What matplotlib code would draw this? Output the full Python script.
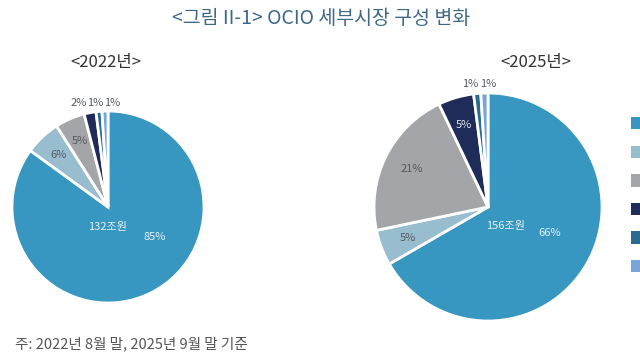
import numpy as np
import matplotlib
matplotlib.use('Agg')
import matplotlib.pyplot as plt
from matplotlib.patches import Patch

plt.rcParams['font.family'] = ['Noto Sans CJK KR', 'DejaVu Sans']

colors = ['#3797c0', '#97bdcf', '#a4a5a8', '#1f2b58', '#2b6b8e', '#78a6da']
share_2022 = [85, 6, 5, 2, 1, 1]
share_2025 = [66, 5, 21, 5, 1, 1]
total_2022 = '132조원'
total_2025 = '156조원'
title = '<그림 II-1> OCIO 세부시장 구성 변화'
note = '주: 2022년 8월 말, 2025년 9월 말 기준'

fig = plt.figure(figsize=(6.4, 3.6), dpi=100)
fig.patch.set_facecolor('white')


def draw_pie(rect, values, total, txt_colors, main_pos, total_pos, small_x):
    ax = fig.add_axes(rect)
    wedges, _ = ax.pie(values, colors=colors, startangle=90, counterclock=False,
                       wedgeprops=dict(edgecolor='white', linewidth=2))
    ax.set_xlim(-1, 1)
    ax.set_ylim(-1, 1)
    ax.set_aspect('equal')
    ax.axis('off')
    k = 0
    for i, (w, v) in enumerate(zip(wedges, values)):
        if i == 0:
            ax.text(main_pos[0], main_pos[1], f'{v}%', ha='center', va='center',
                    fontsize=8, color='#e8f2f7')
            continue
        if v >= 5:
            ang = np.deg2rad((w.theta1 + w.theta2) / 2)
            r = 0.75
            x, y = r * np.cos(ang), r * np.sin(ang)
        else:
            x, y = small_x[k], 1.08
            k += 1
        ax.text(x, y, f'{v}%', ha='center', va='center',
                fontsize=8, color=txt_colors[i])
    ax.text(total_pos[0], total_pos[1], total, ha='center', va='center',
            fontsize=8, color='#e8f2f7')
    return ax


gray_txt = '#555a60'
draw_pie([12 / 640, 57 / 360, 192 / 640, 192 / 360], share_2022, total_2022,
         ['white', gray_txt, gray_txt, gray_txt, gray_txt, gray_txt],
         (0.49, -0.31), (0.0, -0.21), [-0.30, -0.13, 0.04])
draw_pie([374 / 640, 39 / 360, 228 / 640, 228 / 360], share_2025, total_2025,
         ['white', gray_txt, gray_txt, '#e0e6f0', gray_txt, gray_txt],
         (0.54, -0.23), (0.15, -0.17), [-0.16, 0.0])

fig.text(321 / 640, 1 - 19 / 360, title, ha='center', va='center', fontsize=14, color='#3f6886')
fig.text(106 / 640, 1 - 62 / 360, '<2022년>', ha='center', va='center', fontsize=12, color='#333333')
fig.text(536 / 640, 1 - 62 / 360, '<2025년>', ha='center', va='center', fontsize=12, color='#333333')
fig.text(15 / 640, 1 - 344 / 360, note, ha='left', va='center', fontsize=10.5, color='#555555')

handles = [Patch(facecolor=c, edgecolor='none') for c in colors]
fig.legend(handles, [''] * len(colors), loc='upper left',
           bbox_to_anchor=(624 / 640, 1 - 110 / 360), frameon=False,
           handlelength=1.0, handleheight=1.0, labelspacing=1.05, borderpad=0,
           handletextpad=0, fontsize=10)

fig.savefig('out.png', dpi=100)
